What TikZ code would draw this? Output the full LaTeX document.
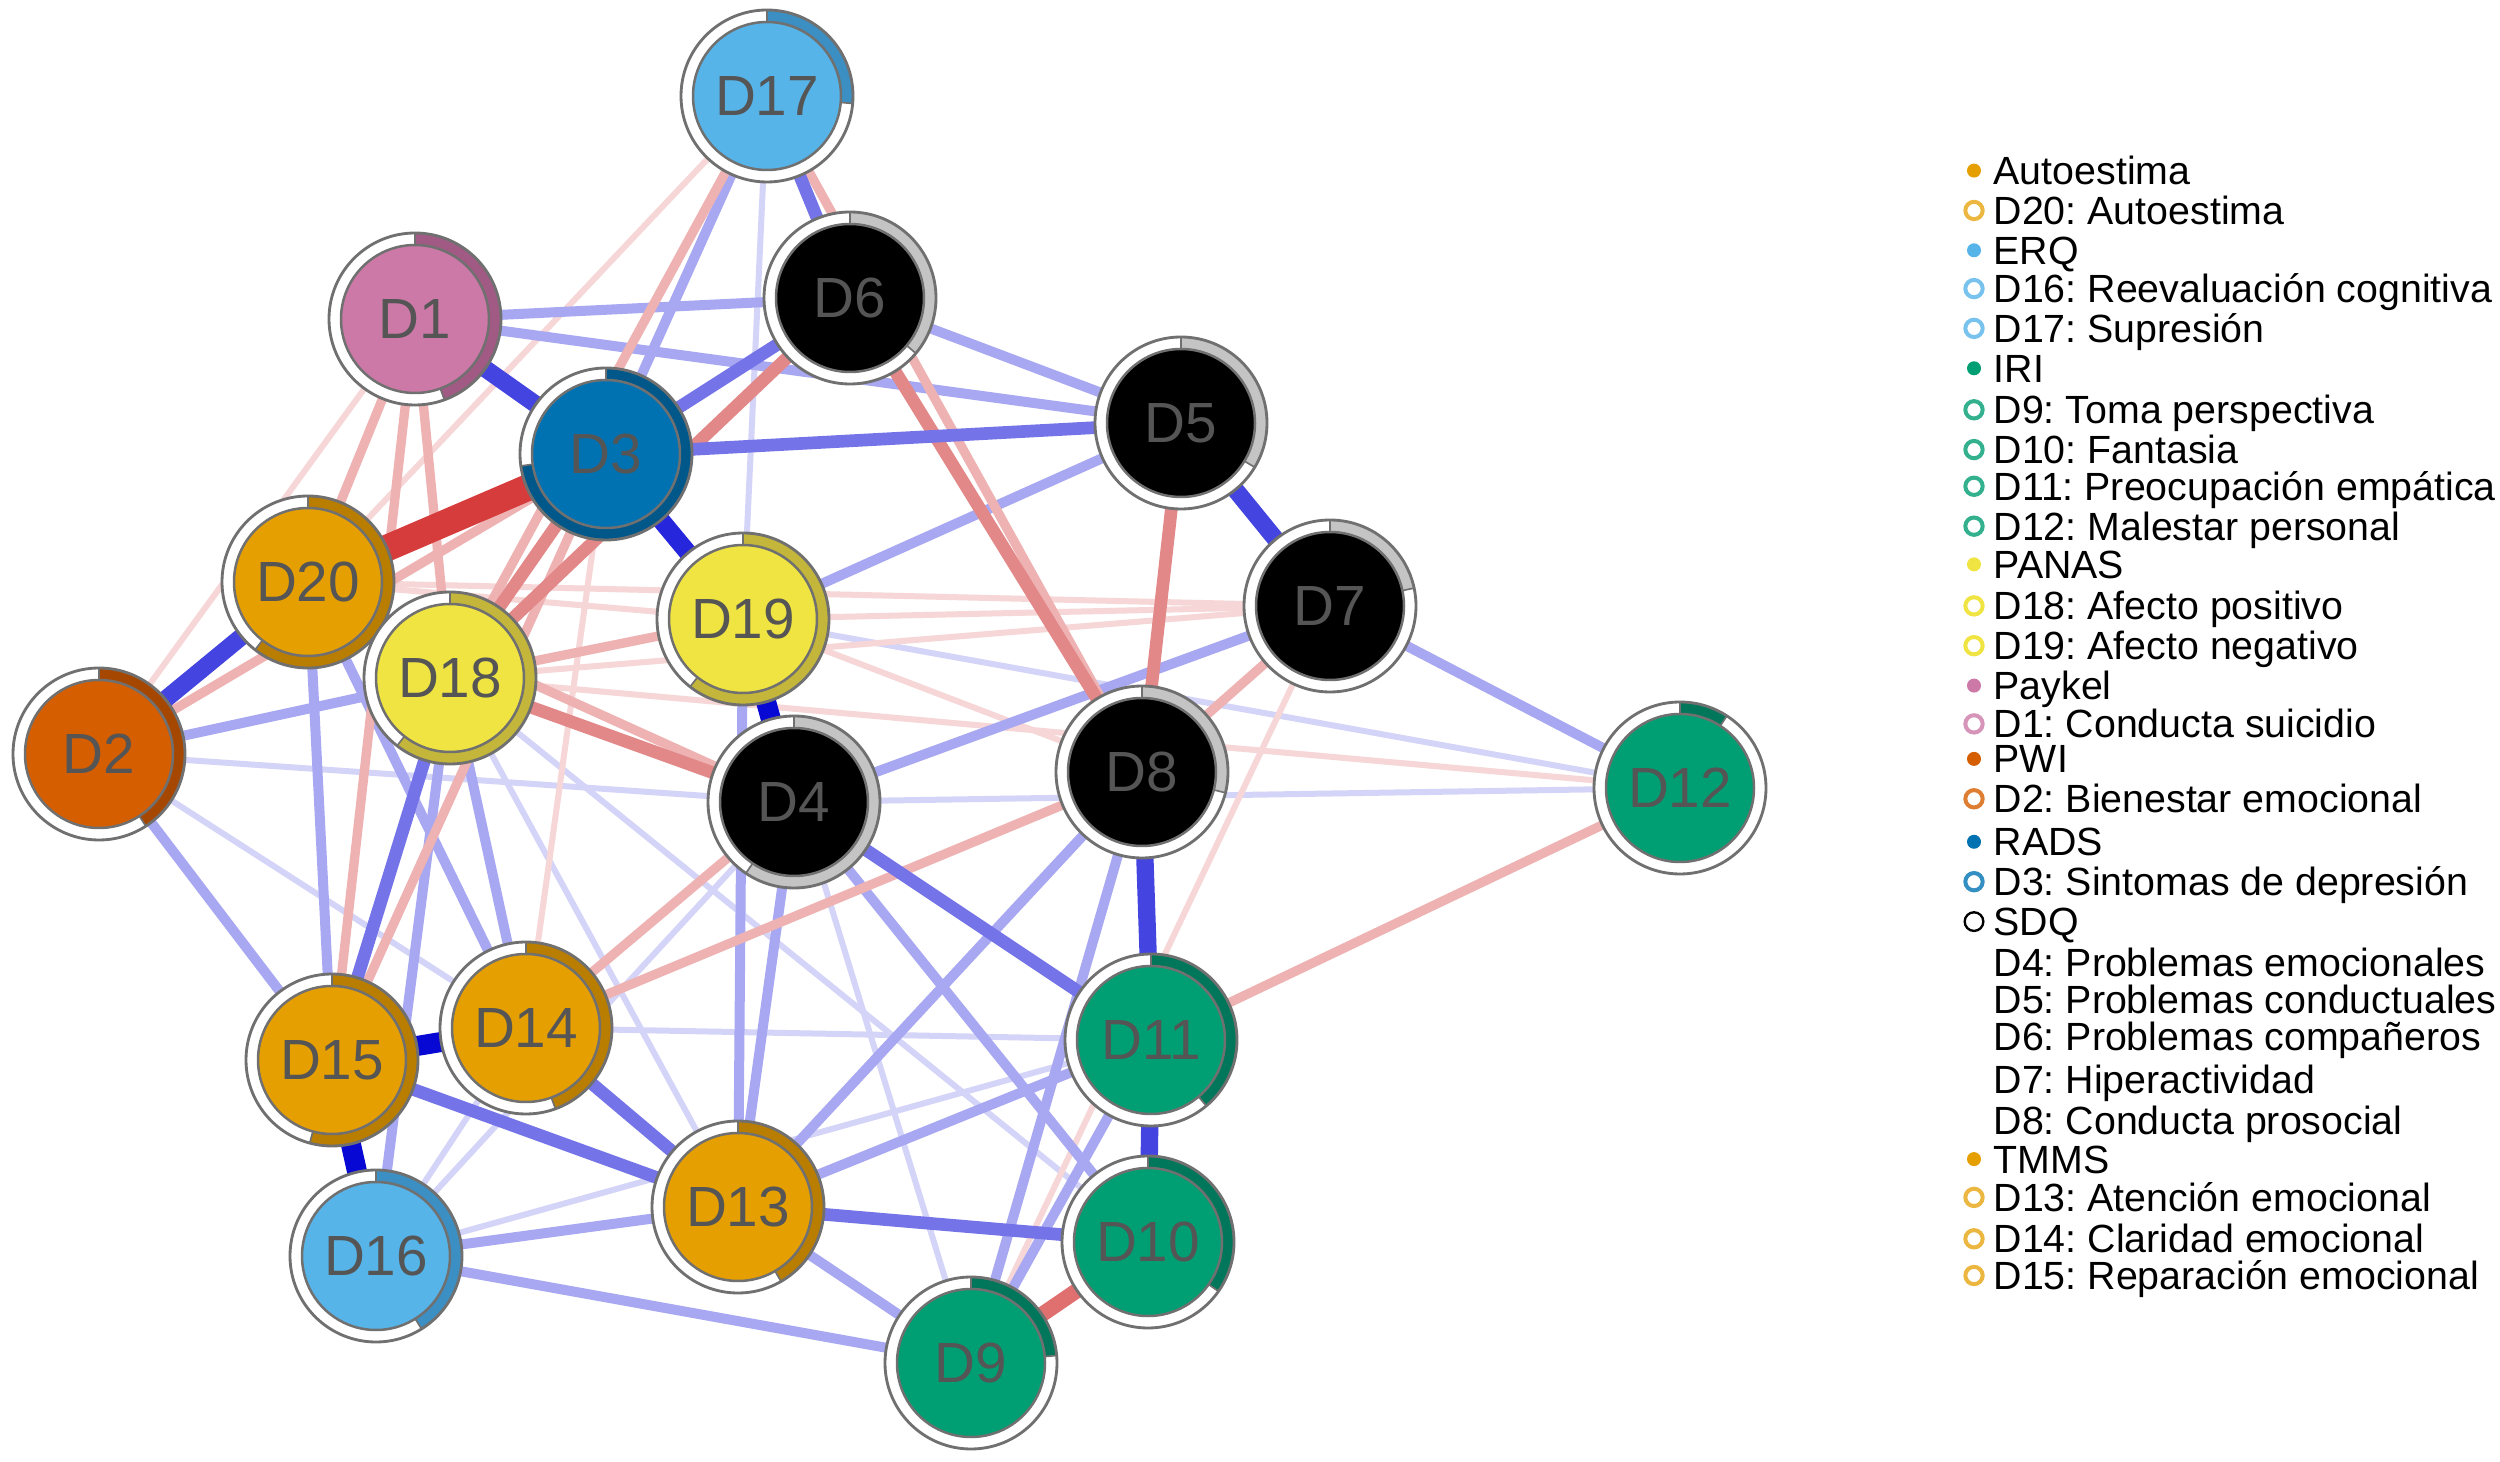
\documentclass[tikz,border=0pt]{standalone}
\usepackage{fontspec}
\setmainfont{Liberation Sans}
\frenchspacing
\usetikzlibrary{backgrounds}
\definecolor{orF}{HTML}{E69F00}\definecolor{orA}{HTML}{B97D00}
\definecolor{skF}{HTML}{56B4E9}\definecolor{skA}{HTML}{3C8FC2}
\definecolor{grF}{HTML}{009E73}\definecolor{grA}{HTML}{00775A}
\definecolor{yeF}{HTML}{F0E442}\definecolor{yeA}{HTML}{C3B63A}
\definecolor{piF}{HTML}{CC79A7}\definecolor{piA}{HTML}{A15A83}
\definecolor{veF}{HTML}{D55E00}\definecolor{veA}{HTML}{A64700}
\definecolor{buF}{HTML}{0072B2}\definecolor{buA}{HTML}{00578A}
\definecolor{bkF}{HTML}{000000}\definecolor{bkA}{HTML}{C4C4C4}
\definecolor{ringgray}{HTML}{707070}
\definecolor{lblgray}{HTML}{555555}
\definecolor{cPa}{HTML}{0808D4}\definecolor{cPb}{HTML}{4444E0}\definecolor{cPbb}{HTML}{2626DC}
\definecolor{cPc}{HTML}{7474E8}\definecolor{cPd}{HTML}{A8A8F2}\definecolor{cPe}{HTML}{D4D4F8}
\definecolor{cNa}{HTML}{D63C3C}\definecolor{cNb}{HTML}{E38888}\definecolor{cNbb}{HTML}{E07070}
\definecolor{cNc}{HTML}{EEB2B2}\definecolor{cNd}{HTML}{F6D6D6}
\def\rOut{25.8pt}
\def\rIn{22.2pt}
\tikzset{
  inner/.style={circle, minimum size=44.4pt, inner sep=0pt, draw=ringgray, line width=0.75pt,
    font=\fontsize{17}{17}\selectfont, text=lblgray},
  ringline/.style={draw=ringgray, line width=0.85pt},
  tickline/.style={draw=ringgray, line width=0.5pt},
  posA/.style={draw=cPa, line width=6pt},
  posB/.style={draw=cPb, line width=5.2pt},
  posBB/.style={draw=cPbb, line width=5.4pt},
  posC/.style={draw=cPc, line width=3.8pt},
  posD/.style={draw=cPd, line width=3pt},
  posE/.style={draw=cPe, line width=1.8pt},
  negA/.style={draw=cNa, line width=8pt},
  negB/.style={draw=cNb, line width=3.8pt},
  negBB/.style={draw=cNbb, line width=4.6pt},
  negC/.style={draw=cNc, line width=2.8pt},
  negD/.style={draw=cNd, line width=1.8pt},
  leg/.style={anchor=base west, inner sep=0pt, font=\fontsize{11.8}{12}\selectfont},
  legring/.style={line width=1.2pt},
}
\newcommand{\netnode}[6]{%
  \fill[white] (#2,#3) circle[radius=\rOut];
  \fill[#5] (#2,#3) -- ([shift={(90:\rOut)}]#2,#3) arc[start angle=90, end angle={90-#6}, radius=\rOut] -- cycle;
  \draw[ringline] (#2,#3) circle[radius=\rOut];
  \draw[tickline] ([shift={(90:\rIn)}]#2,#3) -- ([shift={(90:\rOut)}]#2,#3);
  \draw[tickline] ([shift={({90-#6}:\rIn)}]#2,#3) -- ([shift={({90-#6}:\rOut)}]#2,#3);
  \node[inner, fill=#4] (#1) at (#2,#3) {#1};
}
\begin{document}
\begin{tikzpicture}[x=0.3pt,y=0.3pt]
\useasboundingbox (0,0) rectangle (2500,1461);
% nodes
\netnode{D17}{767}{1365}{skF}{skA}{95}
\netnode{D1}{415}{1142}{piF}{piA}{160}
\netnode{D6}{850}{1163}{bkF}{bkA}{130}
\netnode{D3}{606}{1007}{buF}{buA}{262}
\netnode{D5}{1181}{1038}{bkF}{bkA}{121}
\netnode{D20}{308}{879}{orF}{orA}{218}
\netnode{D19}{743}{842}{yeF}{yeA}{218}
\netnode{D18}{450}{783}{yeF}{yeA}{218}
\netnode{D7}{1330}{855}{bkF}{bkA}{78}
\netnode{D2}{99}{707}{veF}{veA}{147}
\netnode{D4}{794}{659}{bkF}{bkA}{214}
\netnode{D8}{1142}{689}{bkF}{bkA}{104}
\netnode{D12}{1680}{673}{grF}{grA}{33}
\netnode{D15}{332}{401}{orF}{orA}{195}
\netnode{D14}{526}{433}{orF}{orA}{160}
\netnode{D11}{1151}{421}{grF}{grA}{140}
\netnode{D13}{738}{254}{orF}{orA}{150}
\netnode{D16}{376}{205}{skF}{skA}{148}
\netnode{D10}{1148}{219}{grF}{grA}{125}
\netnode{D9}{971}{98}{grF}{grA}{85}
% edges
\begin{scope}[on background layer]
\fill[white] (0,0) rectangle (2500,1461);
\foreach \a/\b in {D17/D19,D2/D4,D2/D14,D4/D12,D16/D14,D18/D13,D16/D11,D14/D11,D16/D4,D19/D9,D18/D10,D19/D12}
  \draw[posE] (\a) -- (\b);
\foreach \a/\b in {D20/D19,D19/D7,D18/D7,D20/D7,D7/D9,D17/D20,D18/D12,D3/D14,D1/D2,D8/D19}
  \draw[negD] (\a) -- (\b);
\foreach \a/\b in {D17/D3,D16/D9,D2/D15,D2/D18,D1/D6,D1/D5,D7/D12,D13/D11,D13/D4,D13/D19,D8/D9,D11/D9,D16/D13,D7/D4,D5/D6,D5/D19,D20/D15,D20/D14,D18/D14,D18/D16,D4/D10,D13/D9,D13/D8}
  \draw[posD] (\a) -- (\b);
\foreach \a/\b in {D1/D20,D1/D18,D1/D15,D2/D3,D12/D11,D14/D4,D8/D14,D20/D4,D18/D19,D17/D8,D7/D8,D17/D18,D3/D15}
  \draw[negC] (\a) -- (\b);
\foreach \a/\b in {D3/D18,D18/D4,D6/D18,D5/D8,D6/D8}
  \draw[negB] (\a) -- (\b);
\draw[negBB] (D9) -- (D10);
\foreach \a/\b in {D17/D6,D3/D5,D3/D6,D18/D15,D4/D11,D15/D13,D14/D13,D13/D10}
  \draw[posC] (\a) -- (\b);
\foreach \a/\b in {D3/D1,D2/D20,D5/D7,D8/D11,D11/D10}
  \draw[posB] (\a) -- (\b);
\draw[posBB] (D3) -- (D19);
\foreach \a/\b in {D19/D4,D15/D14,D15/D16}
  \draw[posA] (\a) -- (\b);
\draw[negA] (D3) -- (D20);
\end{scope}
% legend
\fill[orF] (1974,1290.4) circle[radius=2.1pt];
\node[leg] (l1) at (1993,1276.4) {Autoestima};
\draw[legring, orF!75] (1974,1250.5) circle[radius=2.6pt];
\node[leg] (l2) at (1993,1236.5) {D20: Autoestima};
\fill[skF] (1974,1210.7) circle[radius=2.1pt];
\node[leg] (l3) at (1993,1196.7) {ERQ};
\draw[legring, skF!80] (1974,1172.4) circle[radius=2.6pt];
\node[leg] (l4) at (1993,1158.4) {D16: Reevaluación cognitiva};
\draw[legring, skF!80] (1974,1132.6) circle[radius=2.6pt];
\node[leg] (l5) at (1993,1118.6) {D17: Supresión};
\fill[grF] (1974,1092.7) circle[radius=2.1pt];
\node[leg] (l6) at (1993,1078.7) {IRI};
\draw[legring, grF!80] (1974,1051.2) circle[radius=2.6pt];
\node[leg] (l7) at (1993,1037.2) {D9: Toma perspectiva};
\draw[legring, grF!80] (1974,1011.4) circle[radius=2.6pt];
\node[leg] (l8) at (1993,997.4) {D10: Fantasia};
\draw[legring, grF!80] (1974,974.7) circle[radius=2.6pt];
\node[leg] (l9) at (1993,960.7) {D11: Preocupación empática};
\draw[legring, grF!80] (1974,934.8) circle[radius=2.6pt];
\node[leg] (l10) at (1993,920.8) {D12: Malestar personal};
\fill[yeF] (1974,896.6) circle[radius=2.1pt];
\node[leg] (l11) at (1993,882.6) {PANAS};
\draw[legring, yeF] (1974,855.1) circle[radius=2.6pt];
\node[leg] (l12) at (1993,841.1) {D18: Afecto positivo};
\draw[legring, yeF] (1974,815.3) circle[radius=2.6pt];
\node[leg] (l13) at (1993,801.3) {D19: Afecto negativo};
\fill[piF] (1974,775.4) circle[radius=2.1pt];
\node[leg] (l14) at (1993,761.4) {Paykel};
\draw[legring, piF!80] (1974,737.1) circle[radius=2.6pt];
\node[leg] (l15) at (1993,723.1) {D1: Conducta suicidio};
\fill[veF] (1974,702.1) circle[radius=2.1pt];
\node[leg] (l16) at (1993,688.1) {PWI};
\draw[legring, veF!80] (1974,662.2) circle[radius=2.6pt];
\node[leg] (l17) at (1993,648.2) {D2: Bienestar emocional};
\fill[buF] (1974,619.2) circle[radius=2.1pt];
\node[leg] (l18) at (1993,605.2) {RADS};
\draw[legring, buF!80] (1974,579.3) circle[radius=2.6pt];
\node[leg] (l19) at (1993,565.3) {D3: Sintomas de depresión};
\draw[black, line width=0.7pt] (1974,539.4) circle[radius=2.8pt];
\node[leg] (l20) at (1993,525.4) {SDQ};
\node[leg] (l21) at (1993,484) {D4: Problemas emocionales};
\node[leg] (l22) at (1993,447.3) {D5: Problemas conductuales};
\node[leg] (l23) at (1993,410.6) {D6: Problemas compañeros};
\node[leg] (l24) at (1993,367.6) {D7: Hiperactividad};
\node[leg] (l25) at (1993,326.1) {D8: Conducta prosocial};
\fill[orF] (1974,301.9) circle[radius=2.1pt];
\node[leg] (l26) at (1993,287.9) {TMMS};
\draw[legring, orF!75] (1974,263.6) circle[radius=2.6pt];
\node[leg] (l27) at (1993,249.6) {D13: Atención emocional};
\draw[legring, orF!75] (1974,222.2) circle[radius=2.6pt];
\node[leg] (l28) at (1993,208.2) {D14: Claridad emocional};
\draw[legring, orF!75] (1974,185.5) circle[radius=2.6pt];
\node[leg] (l29) at (1993,171.5) {D15: Reparación emocional};
\end{tikzpicture}
\end{document}
